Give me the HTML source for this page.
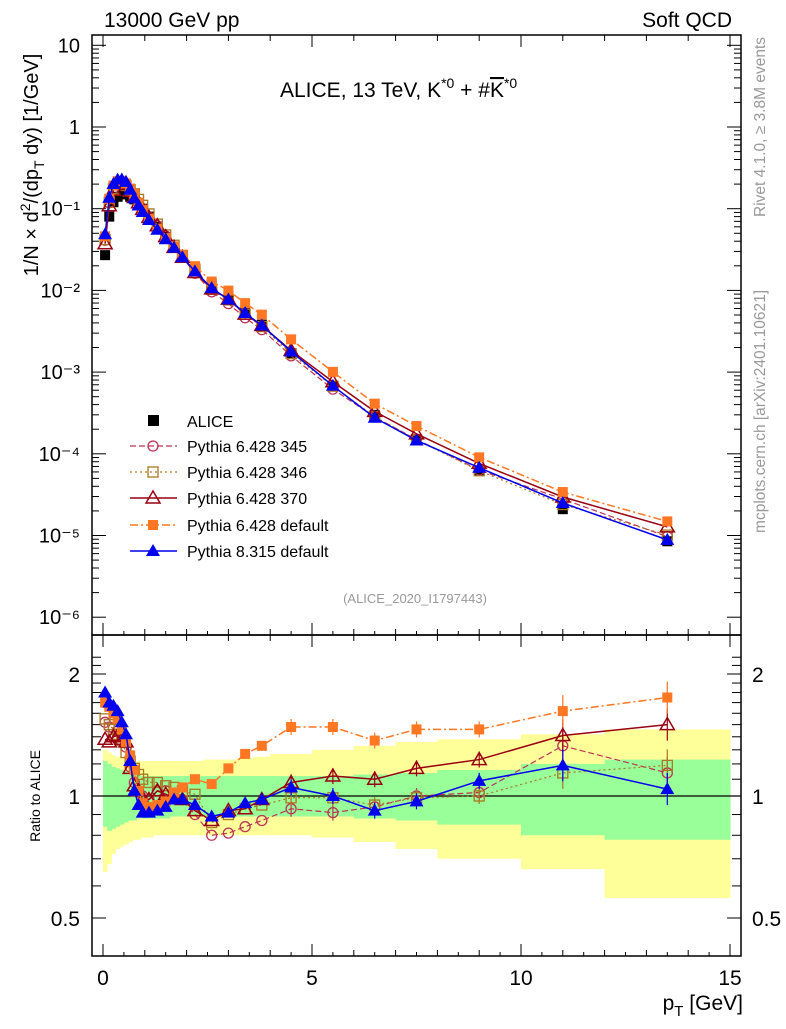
<!DOCTYPE html>
<html><head><meta charset="utf-8"><style>
body{margin:0;background:#fff;width:786px;height:1024px;overflow:hidden;font-family:"Liberation Sans",sans-serif}
svg text{font-family:"Liberation Sans",sans-serif}
</style></head><body>
<svg id="c" width="786" height="1024" xmlns="http://www.w3.org/2000/svg"></svg>
<script>
const pt=[0.05,0.15,0.25,0.35,0.45,0.55,0.65,0.75,0.85,0.95,1.1,1.3,1.5,1.7,1.9,2.2,2.6,3.0,3.4,3.8,4.5,5.5,6.5,7.5,9,11,13.5];
const alice=[0.027,0.08,0.12,0.14,0.15,0.15,0.14,0.13,0.115,0.1,0.08,0.06,0.045,0.034,0.026,0.018,0.012,0.0085,0.0055,0.0038,0.0017,6.8e-4,3.0e-4,1.5e-4,6.2e-5,2.1e-5,8.5e-6];
const r345=[1.52,1.48,1.47,1.45,1.42,1.32,1.18,1.08,1.03,1.0,0.98,1.03,1.03,1.0,0.98,0.9,0.8,0.81,0.84,0.87,0.93,0.91,0.94,1.0,1.02,1.33,1.14];
const r346=[1.55,1.5,1.46,1.42,1.37,1.28,1.22,1.17,1.13,1.1,1.08,1.08,1.06,1.05,1.03,1.01,0.86,0.9,0.93,0.95,0.99,0.99,0.95,0.99,1.0,1.14,1.19];
const r370=[1.38,1.36,1.4,1.41,1.38,1.36,1.17,1.06,1.03,0.98,0.98,1.03,1.01,0.99,0.98,0.92,0.87,0.92,0.93,0.98,1.08,1.12,1.1,1.17,1.23,1.41,1.5];
const rdef6=[1.7,1.66,1.6,1.55,1.46,1.36,1.26,1.16,1.03,0.96,0.94,0.95,0.97,1.02,1.05,1.1,1.07,1.17,1.27,1.33,1.48,1.48,1.37,1.46,1.46,1.62,1.75];
const rp8=[1.8,1.7,1.67,1.62,1.52,1.42,1.22,1.03,0.95,0.91,0.91,0.92,0.94,0.98,0.98,0.95,0.89,0.91,0.96,0.98,1.05,1.0,0.92,0.97,1.09,1.19,1.04];
const edges=[0,0.1,0.2,0.3,0.4,0.5,0.6,0.7,0.8,0.9,1.0,1.2,1.4,1.6,1.8,2.0,2.4,2.8,3.2,3.6,4.0,5,6,7,8,10,12,15];
const gLo=[0.84,0.82,0.83,0.84,0.85,0.86,0.87,0.87,0.88,0.88,0.88,0.88,0.88,0.89,0.89,0.89,0.89,0.89,0.89,0.89,0.89,0.89,0.88,0.87,0.85,0.8,0.78];
const gHi=[1.22,1.2,1.18,1.17,1.16,1.15,1.14,1.13,1.13,1.12,1.12,1.12,1.12,1.12,1.12,1.12,1.12,1.12,1.12,1.12,1.12,1.12,1.13,1.14,1.16,1.2,1.23];
const yLo=[0.65,0.68,0.72,0.74,0.75,0.76,0.77,0.78,0.78,0.79,0.79,0.8,0.8,0.8,0.8,0.8,0.8,0.8,0.8,0.8,0.8,0.79,0.77,0.74,0.7,0.66,0.56];
const yHi=[1.3,1.28,1.26,1.25,1.24,1.23,1.22,1.22,1.22,1.22,1.22,1.22,1.22,1.22,1.22,1.22,1.23,1.23,1.24,1.25,1.27,1.3,1.33,1.36,1.38,1.42,1.46];
const xTicks=[0,5,10,15];
const yTicks=[10,1,0.1,0.01,0.001,1e-4,1e-5,1e-6];
const yTickLabels=["10","1","10⁻¹","10⁻²","10⁻³","10⁻⁴","10⁻⁵","10⁻⁶"];
const rTicks=[0.5,1,2];

const S=document.getElementById('c');const NS='http://www.w3.org/2000/svg';
const L=92,R=741,T=35,MB=635,RB=956;
const X=v=>103+v*41.8;
const Y=v=>127-Math.log10(v)*81.7;
const RY=v=>796-Math.log2(v)*122;
function el(t,a,p){const e=document.createElementNS(NS,t);for(const k in a)e.setAttribute(k,a[k]);(p||S).appendChild(e);return e;}
function tx(x,y,s,a,p){const e=el('text',Object.assign({x:x,y:y},a||{}),p);e.textContent=s;return e;}

for(let i=0;i<edges.length-1;i++){
 const b=el('rect',{x:X(edges[i]),y:RY(yHi[i]),width:X(edges[i+1])-X(edges[i])+0.5,height:RY(yLo[i])-RY(yHi[i]),fill:'#ffff99'});
 
 
}
for(let i=0;i<edges.length-1;i++){
 const b=el('rect',{x:X(edges[i]),y:RY(gHi[i]),width:X(edges[i+1])-X(edges[i])+0.5,height:RY(gLo[i])-RY(gHi[i]),fill:'#99ff99'});
 
 
}
el('line',{x1:L,x2:R,y1:RY(1),y2:RY(1),stroke:'#000','stroke-width':1.2});

el('rect',{x:L,y:T,width:R-L,height:MB-T,fill:'none',stroke:'#000','stroke-width':1.5});
el('rect',{x:L,y:MB,width:R-L,height:RB-MB,fill:'none',stroke:'#000','stroke-width':1.5});

for(let v=0;v<=15;v+=1){const maj=v%5==0;const x=X(v);
 for(const [yb,yt] of [[MB,T],[RB,MB]]){el('line',{x1:x,x2:x,y1:yb,y2:yb-(maj?12:6),stroke:'#000'});el('line',{x1:x,x2:x,y1:yt,y2:yt+(maj?12:6),stroke:'#000'});}
}
for(let v=0.5;v<15;v+=1){const x=X(v);el('line',{x1:x,x2:x,y1:RB,y2:RB-4,stroke:'#000'});el('line',{x1:x,x2:x,y1:MB,y2:MB-4,stroke:'#000'});}
xTicks.forEach(v=>{const t=tx(X(v),985,String(v),{'font-size':21,'text-anchor':'middle'});});
for(let d=-6;d<=1;d++){for(let m=1;m<10;m++){const v=m*Math.pow(10,d);const y=Y(v);if(y<T||y>MB)continue;const len=m==1?14:7;
 el('line',{x1:L,x2:L+len,y1:y,y2:y,stroke:'#000'});el('line',{x1:R,x2:R-len,y1:y,y2:y,stroke:'#000'});}}
yTicks.forEach((v,i)=>{const t=tx(80,Y(v)+7,yTickLabels[i],{'font-size':20,'text-anchor':'end'});});
for(let v=0.45;v<=2.3;v+=0.05){const y=RY(v);if(y<MB||y>RB)continue;const r=Math.round(v*100)/100;const maj=[0.5,1,2].includes(r);const mid=Math.abs(r*10-Math.round(r*10))<0.01;const len=maj?14:(mid?9:0);if(!len)continue;
 el('line',{x1:L,x2:L+len,y1:y,y2:y,stroke:'#000'});el('line',{x1:R,x2:R-len,y1:y,y2:y,stroke:'#000'});}
rTicks.forEach(v=>{const a=tx(80,RY(v)+8,String(v),{'font-size':21,'text-anchor':'end'});const b=tx(752,RY(v)+8,String(v),{'font-size':21});});

const series=[
 {n:'Pythia 6.428 345',r:r345,c:'#bb3355',m:'circ',d:'6,3',w:1.2},
 {n:'Pythia 6.428 346',r:r346,c:'#aa7722',m:'osq',d:'2,3',w:1.2},
 {n:'Pythia 6.428 370',r:r370,c:'#990011',m:'otri',d:'',w:1.5},
 {n:'Pythia 6.428 default',r:rdef6,c:'#ff7722',m:'fsq',d:'8,3,2,3',w:1.5},
 {n:'Pythia 8.315 default',r:rp8,c:'#0000ee',m:'ftri',d:'',w:1.5}];
function marker(g,m,x,y,c){
 if(m=='circ')el('circle',{cx:x,cy:y,r:5,fill:'none',stroke:c,'stroke-width':1.3},g);
 if(m=='osq')el('rect',{x:x-5,y:y-5,width:10,height:10,fill:'none',stroke:c,'stroke-width':1.3},g);
 if(m=='fsq')el('rect',{x:x-5,y:y-5,width:10,height:10,fill:c},g);
 if(m=='otri')el('polygon',{points:`${x},${y-7} ${x-7},${y+5} ${x+7},${y+5}`,fill:'none',stroke:c,'stroke-width':1.5},g);
 if(m=='ftri')el('polygon',{points:`${x},${y-7} ${x-7},${y+5} ${x+7},${y+5}`,fill:c},g);
}
const ga=el('g',{});
pt.forEach((p,i)=>el('rect',{x:X(p)-5,y:Y(alice[i])-5,width:10,height:10,fill:'#000'},ga));
series.forEach(s=>{
 const g=el('g',{});
 const pm=pt.map((p,i)=>X(p)+','+Y(alice[i]*s.r[i])).join(' ');
 el('polyline',{points:pm,fill:'none',stroke:s.c,'stroke-width':s.w,'stroke-dasharray':s.d},g);
 pt.forEach((p,i)=>marker(g,s.m,X(p),Y(alice[i]*s.r[i]),s.c));
 const pr=pt.map((p,i)=>X(p)+','+RY(s.r[i])).join(' ');
 el('polyline',{points:pr,fill:'none',stroke:s.c,'stroke-width':s.w,'stroke-dasharray':s.d},g);
 pt.forEach((p,i)=>{const y=RY(s.r[i]);if(p>4){const e=p>10?16:8;el('line',{x1:X(p),x2:X(p),y1:y-e,y2:y+e,stroke:s.c,'stroke-width':1.2},g);}marker(g,s.m,X(p),y,s.c);});
});

const lg=el('g',{});
const ly=[421,446,472,498,525,551];
el('rect',{x:148,y:ly[0]-6,width:11,height:11,fill:'#000'},lg);
tx(187,ly[0]+6,'ALICE',{'font-size':16},lg);
series.forEach((s,i)=>{const y=ly[i+1];el('line',{x1:130,x2:177,y1:y,y2:y,stroke:s.c,'stroke-width':s.w,'stroke-dasharray':s.d},lg);marker(lg,s.m,153,y,s.c);tx(187,y+6,s.n,{'font-size':16},lg);});

const t1=tx(104,27,'13000 GeV pp',{'font-size':21});
const t2=tx(732,27,'Soft QCD',{'font-size':21,'text-anchor':'end'});
const ti=tx(280,97,'',{'font-size':21});
ti.innerHTML='ALICE, 13 TeV, K<tspan dy="-9" font-size="14">*0</tspan><tspan dy="9"> + #</tspan><tspan text-decoration="overline">K</tspan><tspan dy="-9" font-size="14">*0</tspan>';
const t3=tx(415,603,'(ALICE_2020_I1797443)',{'font-size':13,fill:'#999','text-anchor':'middle'});
const yt=tx(0,0,'',{'font-size':20,transform:'translate(38,165) rotate(-90)','text-anchor':'middle'});
yt.innerHTML='1/N × d<tspan dy="-8" font-size="14">2</tspan><tspan dy="8">/(dp</tspan><tspan dy="6" font-size="14">T</tspan><tspan dy="-6"> dy) [1/GeV]</tspan>';
const t4=tx(0,0,'Ratio to ALICE',{'font-size':14,transform:'translate(40,796) rotate(-90)','text-anchor':'middle'});
const xt=tx(743,1010,'',{'font-size':21,'text-anchor':'end'});
xt.innerHTML='p<tspan dy="6" font-size="15">T</tspan><tspan dy="-6"> [GeV]</tspan>';
const t5=tx(0,0,'Rivet 4.1.0, ≥ 3.8M events',{'font-size':15.5,fill:'#999',transform:'translate(765,37) rotate(-90)','text-anchor':'end'});
const t6=tx(0,0,'mcplots.cern.ch [arXiv:2401.10621]',{'font-size':15.5,fill:'#999',transform:'translate(765,290) rotate(-90)','text-anchor':'end'});
</script>
</body></html>
